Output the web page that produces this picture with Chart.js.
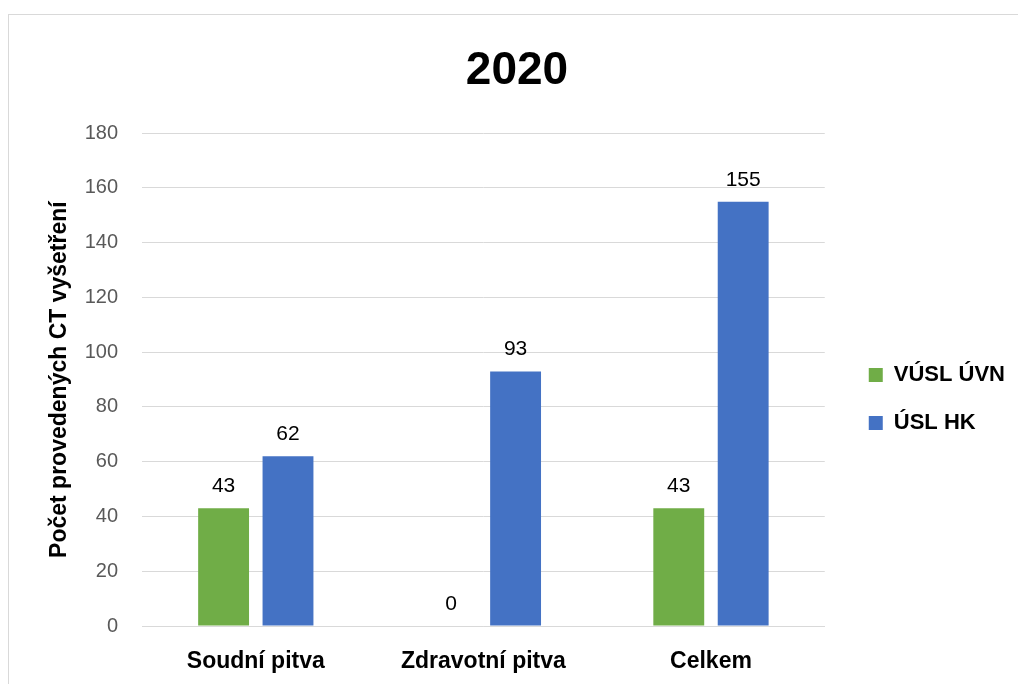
<!DOCTYPE html>
<html>
<head>
<meta charset="utf-8">
<script src="https://cdn.jsdelivr.net/npm/chart.js@4"></script>
<style>
  html, body { margin: 0; padding: 0; background: #fff; }
  #wrap { position: relative; width: 1018px; height: 684px; }
  #frame { position: absolute; left: 8px; top: 14px; width: 1020px; height: 690px; border: 1px solid #d9d9d9; box-sizing: border-box; pointer-events: none; }
  canvas { display: block; }
</style>
</head>
<body>
<div id="wrap">
  <canvas id="c" width="1018" height="684"></canvas>
  <div id="frame"></div>
</div>
<script>
const chartTitle = "2020";
const categories = ["Soudní pitva", "Zdravotní pitva", "Celkem"];
const seriesNames = ["VÚSL ÚVN", "ÚSL HK"];
const vuslUvn = [43, 0, 43];
const uslHk = [62, 93, 155];
const yAxisTitle = "Počet provedených CT vyšetření";
const yMin = 0, yMax = 180, yStep = 20;

const FONT = "'Liberation Sans', Arial, sans-serif";

const valueLabels = {
  id: 'valueLabels',
  afterDatasetsDraw(chart) {
    const ctx = chart.ctx;
    ctx.save();
    ctx.font = "21px " + FONT;
    ctx.fillStyle = "#000";
    ctx.textAlign = "center";
    ctx.textBaseline = "alphabetic";
    chart.data.datasets.forEach((ds, i) => {
      const meta = chart.getDatasetMeta(i);
      meta.data.forEach((el, j) => {
        ctx.fillText(String(ds.data[j]), el.x, el.y - 16);
      });
    });
    ctx.restore();
  }
};

// place the legend block where the reference has it
const legendPlacer = {
  id: 'legendPlacer',
  afterLayout(chart) {
    const lg = chart.legend;
    if (!lg) return;
    const dx = (chart.chartArea.right + 18) - lg.left;
    const dy = 57;
    lg.left += dx; lg.right += dx;
    lg.top += dy; lg.bottom += dy;
  }
};

new Chart(document.getElementById('c'), {
  type: 'bar',
  data: {
    labels: categories,
    datasets: [
      { label: seriesNames[0], data: vuslUvn, backgroundColor: '#70AD47', categoryPercentage: 0.566, barPercentage: 0.79 },
      { label: seriesNames[1], data: uslHk, backgroundColor: '#4472C4', categoryPercentage: 0.566, barPercentage: 0.79 }
    ]
  },
  options: {
    responsive: false,
    animation: false,
    devicePixelRatio: 1,
    layout: { padding: { left: 37, right: 21, top: 0, bottom: 0 } },
    plugins: {
      title: {
        display: true,
        text: chartTitle,
        color: '#000',
        font: { family: FONT, size: 46, weight: 'bold' },
        padding: { top: 44, bottom: 34 }
      },
      legend: {
        position: 'right',
        align: 'center',
        labels: {
          boxWidth: 14,
          boxHeight: 14,
          padding: 26,
          color: '#000',
          font: { family: FONT, size: 22, weight: 'bold' }
        }
      },
      tooltip: { enabled: false }
    },
    scales: {
      x: {
        grid: { display: false, drawTicks: false },
        border: { display: true, color: '#d9d9d9', width: 1 },
        ticks: { color: '#000', padding: 22, font: { family: FONT, size: 23, weight: 'bold' } },
        afterFit(scale) { scale.height = 58; }
      },
      y: {
        min: yMin,
        max: yMax,
        ticks: { stepSize: yStep, color: '#595959', padding: 24, font: { family: FONT, size: 20 } },
        grid: { color: '#d9d9d9', drawTicks: false },
        border: { display: false },
        title: {
          display: true,
          text: yAxisTitle,
          color: '#000',
          font: { family: FONT, size: 23, weight: 'bold' },
          padding: { top: 9, bottom: 0 }
        },
        afterFit(scale) { scale.width = 105; }
      }
    }
  },
  plugins: [valueLabels, legendPlacer]
});
</script>
</body>
</html>
